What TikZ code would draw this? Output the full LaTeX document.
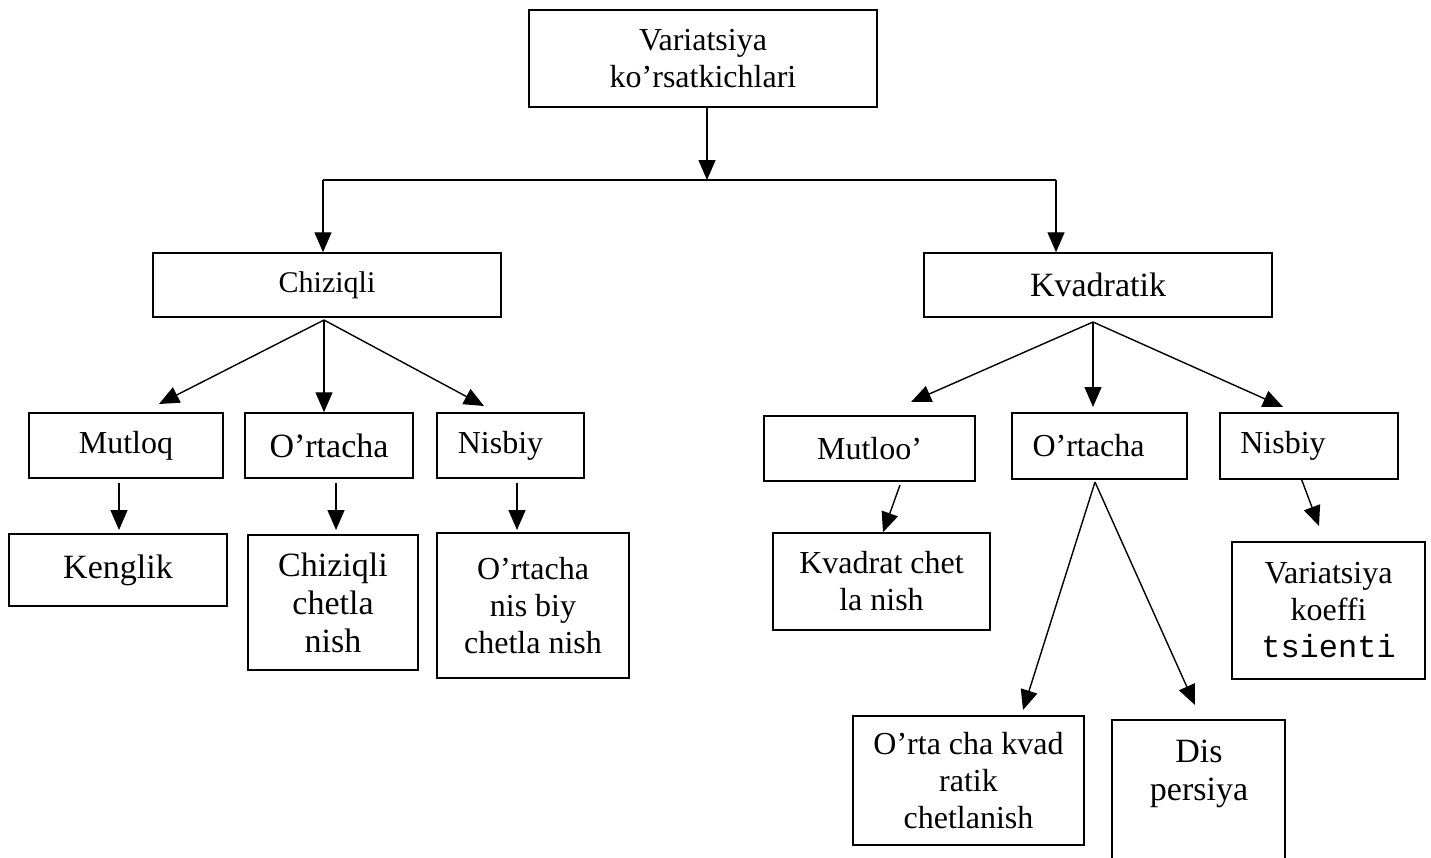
\documentclass[tikz,border=0pt]{standalone}
\usepackage{fontspec}
\setmainfont{Liberation Serif}
\newfontfamily\monofont{Liberation Mono}
\usetikzlibrary{arrows.meta}
\tikzset{
 box/.style={draw, line width=1.5pt, inner sep=0pt},
 arr/.style={line width=1.4pt, -{Triangle[length=20pt,width=17pt]}},
 lnk/.style={line width=1.4pt},
 fa/.style={font=\fontsize{32}{37}\selectfont},
 fb/.style={font=\fontsize{34}{38}\selectfont},
 fc/.style={font=\fontsize{30}{35}\selectfont},
}
\begin{document}
\begin{tikzpicture}[x=1pt,y=-1pt]
\useasboundingbox (0,0) rectangle (1431,857);
\clip (0,0) rectangle (1431,857);
% top
\node[box,fa,align=center,minimum width=348,minimum height=97] (top) at (703,58.5) {Variatsiya\\ko’rsatkichlari};
\node[box,fc,minimum width=348,minimum height=64] (chiz) at (327,285) {Chiziqli};
\node[box,fb,minimum width=348,minimum height=64] (kvad) at (1098,285) {Kvadratik};
% row 1 left
\node[box,fa,minimum width=194,minimum height=65] (mutL) at (126,445.5) {Mutloq};
\node[box,fb,minimum width=168,minimum height=65] (ortL) at (329,445.5) {O’rtacha};
\node[box,fa,minimum width=147,minimum height=65] (nisL) at (510.5,445.5) {Nisbiy\hspace*{20pt}};
% row 2 left
\node[box,fb,minimum width=218,minimum height=72] (keng) at (118,570) {Kenglik};
\node[box,fb,align=center,minimum width=170,minimum height=135] (chch) at (333,602.5) {Chiziqli\\chetla\\nish};
\node[box,fa,align=center,minimum width=192,minimum height=145] (onch) at (533,605.5) {O’rtacha\\nis biy\\chetla nish};
% row 1 right
\node[box,fa,minimum width=211,minimum height=65] (mutR) at (869.5,448.5) {Mutloo’};
\node[box,fa,minimum width=175,minimum height=66] (ortR) at (1099.5,446) {O’rtacha\hspace*{22pt}};
\node[box,fa,minimum width=178,minimum height=66] (nisR) at (1309,446) {Nisbiy\hspace*{52pt}};
% row 2 right
\node[box,fa,align=center,minimum width=217,minimum height=97] (kch) at (881.5,581.5) {Kvadrat chet\\la nish};
\node[box,fa,align=center,minimum width=193,minimum height=137] (vk) at (1328.5,610.5) {Variatsiya\\koeffi\\{\monofont tsienti}};
\node[box,fa,align=center,minimum width=231,minimum height=129] (okc) at (968.5,780.5) {O’rta cha kvad\\ratik\\chetlanish};
\node[box,minimum width=173,minimum height=200,anchor=north] (dis) at (1198.5,719) {};
\node[fb,align=center,inner sep=0pt] (dist) at (1199,774) {Dis\\persiya};
% coordinates
\coordinate (j) at (707,180);
\coordinate (jl) at (323,180);
\coordinate (jr) at (1056,180);
\coordinate (cl) at (324,320);
\coordinate (cr) at (1093,322);
\coordinate (l1) at (159,404);
\coordinate (l3) at (484,406);
\coordinate (r1) at (911,402);
\coordinate (r2) at (1093,407);
\coordinate (r3) at (1283,407);
\coordinate (a1s) at (119,483); \coordinate (a1e) at (119,530);
\coordinate (a2s) at (336,483); \coordinate (a2e) at (336,530);
\coordinate (a3s) at (517,483); \coordinate (a3e) at (517,530);
\coordinate (b1s) at (900,485);
\coordinate (b3s) at (1301,478); \coordinate (b3e) at (1319,526);
\coordinate (os) at (1095,482);
\coordinate (o1) at (1023,710);
\coordinate (o2) at (1195,705);
% connectors
\draw[arr] (top.south -| j) -- (j);
\draw[lnk] (jl) -- (jr);
\draw[arr] (jl) -- (jl |- chiz.north);
\draw[arr] (jr) -- (jr |- kvad.north);
\draw[arr] (cl) -- (l1);
\draw[arr] (cl) -- (cl |- ortL.north);
\draw[arr] (cl) -- (l3);
\draw[arr] (cr) -- (r1);
\draw[arr] (cr) -- (r2);
\draw[arr] (cr) -- (r3);
\draw[arr] (a1s) -- (a1e);
\draw[arr] (a2s) -- (a2e);
\draw[arr] (a3s) -- (a3e);
\draw[arr] (b1s) -- (kch.north -| 883,0);
\draw[arr] (b3s) -- (b3e);
\draw[arr] (os) -- (o1);
\draw[arr] (os) -- (o2);
\end{tikzpicture}
\end{document}
